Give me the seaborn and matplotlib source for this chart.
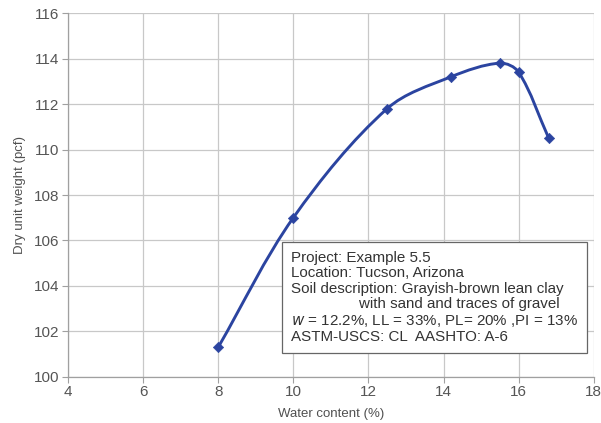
import numpy as np
import seaborn as sns
import matplotlib.pyplot as plt
import pandas as pd
from matplotlib.path import Path
from matplotlib.patches import PathPatch

water = [8.0, 10.0, 12.5, 14.2, 15.5, 16.0, 16.8]
dry_weight = [101.3, 107.0, 111.8, 113.2, 113.8, 113.4, 110.5]
df = pd.DataFrame({"water": water, "dry": dry_weight})

sns.set_theme(style="whitegrid")
plt.rcParams['font.family'] = ['Liberation Sans', 'DejaVu Sans']
blue = "#2b44a0"

fig = plt.figure(figsize=(6.01, 4.23), dpi=100)
ax = fig.add_axes([0.113, 0.109, 0.875, 0.860])
ax.set_xlim(4, 18)
ax.set_ylim(100, 116)

# smooth line through the points, tangents by chord length (in screen units)
pts = df[["water", "dry"]].to_numpy()
scr = ax.transData.transform(pts)
d = np.linalg.norm(np.diff(scr, axis=0), axis=1)
n = len(scr)
tan = np.zeros_like(scr)
for i in range(n):
    if i == 0:
        tan[i] = (scr[1] - scr[0]) / d[0]
    elif i == n - 1:
        tan[i] = (scr[-1] - scr[-2]) / d[-1]
    else:
        tan[i] = (scr[i + 1] - scr[i - 1]) / (d[i - 1] + d[i])
inv = ax.transData.inverted()
verts = [tuple(pts[0])]
codes = [Path.MOVETO]
for i in range(n - 1):
    c1 = scr[i] + tan[i] * d[i] / 3
    c2 = scr[i + 1] - tan[i + 1] * d[i] / 3
    for p in (c1, c2, scr[i + 1]):
        verts.append(tuple(inv.transform(p)))
    codes += [Path.CURVE4] * 3
ax.add_patch(PathPatch(Path(verts, codes), fill=False, edgecolor=blue, lw=2.1, zorder=3))

sns.scatterplot(data=df, x="water", y="dry", marker="D", s=28, color=blue,
                edgecolor=blue, ax=ax, zorder=4)

ax.set_xticks(range(4, 19, 2))
ax.set_yticks(range(100, 117, 2))
ax.grid(True, color="#c8c8c8", lw=0.9)
for s in ["top", "right"]:
    ax.spines[s].set_visible(False)
for s in ["left", "bottom"]:
    ax.spines[s].set_color("#a0a0a0")
    ax.spines[s].set_linewidth(0.9)
ax.tick_params(axis="both", labelsize=11, colors="#555555", length=4, width=0.8,
               color="#a0a0a0", left=True, bottom=True, pad=2)
ax.set_xlabel("Water content (%)", fontsize=9.5, color="#505050", labelpad=6)
ax.set_ylabel("Dry unit weight (pcf)", fontsize=9.5, color="#505050", labelpad=6)

info = ("Project: Example 5.5\n"
        "Location: Tucson, Arizona\n"
        "Soil description: Grayish-brown lean clay\n"
        "                with sand and traces of gravel\n"
        "$w$ = 12.2%, LL = 33%, PL= 20% ,PI = 13%\n"
        "ASTM-USCS: CL  AASHTO: A-6")
ax.text(0.424, 0.346, info, transform=ax.transAxes, fontsize=10.9, color="#333333",
        va="top", ha="left", linespacing=1.13, zorder=5,
        bbox=dict(boxstyle="square,pad=0.6", facecolor="white", edgecolor="#666666", lw=0.9))

fig.savefig("out.png", dpi=100)
